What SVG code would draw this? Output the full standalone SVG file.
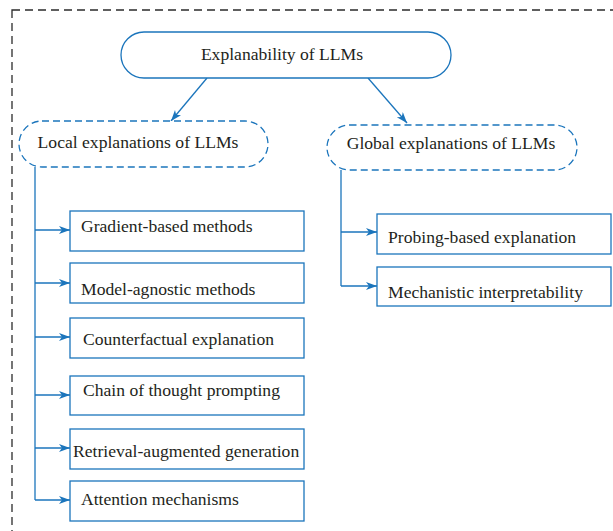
<svg xmlns="http://www.w3.org/2000/svg" width="613" height="531" viewBox="0 0 613 531">
<defs>
<style>
.bg{fill:#ffffff}
.frame{fill:none;stroke:#2b2b2b;stroke-width:1.3;stroke-dasharray:8,5}
.pill{fill:#ffffff;stroke:#1b75bc;stroke-width:1.3}
.dpill{fill:#ffffff;stroke:#1b75bc;stroke-width:1.3;stroke-dasharray:7,4}
.box{fill:#ffffff;stroke:#1b75bc;stroke-width:1.3}
.ln{fill:none;stroke:#1b75bc;stroke-width:1.3}
.t{font-family:"Liberation Serif","Times New Roman",serif;font-size:17.6px;fill:#231f20}
.c{text-anchor:middle}
</style>
<marker id="ah" markerUnits="userSpaceOnUse" markerWidth="12" markerHeight="9" refX="11" refY="4" orient="auto">
<path d="M0,0 L11,4 L0,8 L3,4 Z" fill="#1b75bc"/>
</marker>
</defs>
<rect class="bg" x="0" y="0" width="613" height="531"/>
<rect class="frame" x="12" y="10" width="640" height="560"/>

<g id="connectors">
<line class="ln" x1="207" y1="78" x2="171" y2="121" marker-end="url(#ah)"/>
<line class="ln" x1="368" y1="78" x2="407" y2="123" marker-end="url(#ah)"/>
<polyline class="ln" points="35,167 35,500"/>
<line class="ln" x1="35" y1="230" x2="70" y2="230" marker-end="url(#ah)"/>
<line class="ln" x1="35" y1="283" x2="70" y2="283" marker-end="url(#ah)"/>
<line class="ln" x1="35" y1="337" x2="70" y2="337" marker-end="url(#ah)"/>
<line class="ln" x1="35" y1="395" x2="70" y2="395" marker-end="url(#ah)"/>
<line class="ln" x1="35" y1="448" x2="70" y2="448" marker-end="url(#ah)"/>
<line class="ln" x1="35" y1="500" x2="70" y2="500" marker-end="url(#ah)"/>
<polyline class="ln" points="341,170 341,286"/>
<line class="ln" x1="341" y1="232" x2="377" y2="232" marker-end="url(#ah)"/>
<line class="ln" x1="341" y1="286" x2="377" y2="286" marker-end="url(#ah)"/>
</g>

<g id="root">
<rect class="pill" x="121" y="32" width="330" height="46" rx="23" ry="23"/>
<text class="t c" x="282" y="60">Explanability of LLMs</text>
</g>
<g id="local">
<rect class="dpill" x="19" y="121" width="249" height="46" rx="23" ry="23"/>
<text class="t c" x="138" y="148">Local explanations of LLMs</text>
</g>
<g id="global">
<rect class="dpill" x="327" y="125" width="250" height="45" rx="22.5" ry="22.5"/>
<text class="t c" x="451" y="149">Global explanations of LLMs</text>
</g>

<g id="gradient">
<rect class="box" x="70" y="211" width="234" height="40"/>
<text class="t" x="81" y="232">Gradient-based methods</text>
</g>
<g id="model-agnostic">
<rect class="box" x="70" y="263" width="234" height="40"/>
<text class="t" x="81" y="295">Model-agnostic methods</text>
</g>
<g id="counterfactual">
<rect class="box" x="70" y="318" width="234" height="40"/>
<text class="t" x="83" y="345">Counterfactual explanation</text>
</g>
<g id="chain">
<rect class="box" x="70" y="376" width="234" height="39"/>
<text class="t" x="83" y="396">Chain of thought prompting</text>
</g>
<g id="retrieval">
<rect class="box" x="70" y="429" width="234" height="40"/>
<text class="t" x="73" y="457">Retrieval-augmented generation</text>
</g>
<g id="attention">
<rect class="box" x="70" y="481" width="234" height="40"/>
<text class="t" x="81" y="505">Attention mechanisms</text>
</g>
<g id="probing">
<rect class="box" x="377" y="214" width="234" height="40"/>
<text class="t" x="388" y="243">Probing-based explanation</text>
</g>
<g id="mechanistic">
<rect class="box" x="377" y="267" width="234" height="39"/>
<text class="t" x="388" y="298">Mechanistic interpretability</text>
</g>
</svg>
